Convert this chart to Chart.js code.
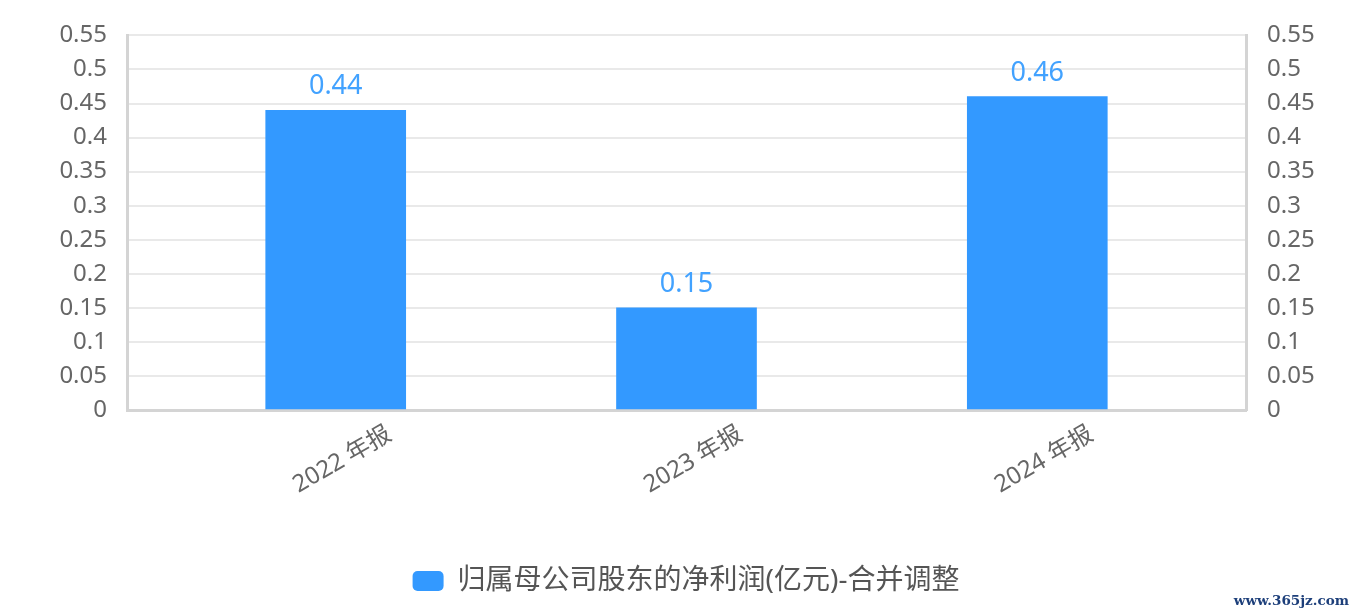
<!DOCTYPE html>
<html>
<head>
<meta charset="utf-8">
<script src="https://cdn.jsdelivr.net/npm/chart.js@4/dist/chart.umd.min.js"></script>
<style>
  html, body { margin: 0; padding: 0; background: #fff; }
  #wrap { position: relative; width: 1357px; height: 615px; }
  #wm { position: absolute; right: 8px; bottom: 7px; font-family: 'DejaVu Serif', serif; font-size: 13.5px; font-weight: bold; color: #1d3f7a; }
</style>
</head>
<body>
<div id="wrap">
  <canvas id="c" width="1357" height="615"></canvas>
  <div id="wm">www.365jz.com</div>
</div>
<script>
const categories = ['2022 年报', '2023 年报', '2024 年报'];
const seriesName = '归属母公司股东的净利润(亿元)-合并调整';
const netProfit = [0.44, 0.15, 0.46];
const yTicks = [0, 0.05, 0.1, 0.15, 0.2, 0.25, 0.3, 0.35, 0.4, 0.45, 0.5, 0.55];

const FONT = "'Noto Sans', 'Noto Sans CJK SC', sans-serif";
const BAR = '#3399ff';
const AXIS = '#d4d4d4';

const valueLabels = {
  id: 'valueLabels',
  afterDatasetsDraw(chart) {
    const ctx = chart.ctx;
    const meta = chart.getDatasetMeta(0);
    ctx.save();
    ctx.font = '27px ' + FONT;
    ctx.fillStyle = '#42a2ff';
    ctx.textAlign = 'center';
    ctx.textBaseline = 'alphabetic';
    meta.data.forEach((el, i) => {
      ctx.fillText(String(netProfit[i]), el.x, el.y - 16);
    });
    ctx.restore();
  }
};

const yTickCfg = {
  color: '#666',
  font: { size: 24, family: FONT },
  padding: 20,
  callback: v => String(+(+v).toFixed(2))
};

new Chart(document.getElementById('c'), {
  type: 'bar',
  data: {
    datasets: [{
      label: seriesName,
      data: netProfit.map((v, i) => ({ x: i, y: v })),
      backgroundColor: BAR,
      barThickness: 140,
      yAxisID: 'y'
    }]
  },
  options: {
    responsive: false,
    animation: false,
    layout: { padding: { top: 35, bottom: 10, left: 15, right: 0 } },
    scales: {
      x: {
        type: 'linear',
        offset: false,
        min: -0.595,
        max: 2.595,
        afterBuildTicks: s => { s.ticks = categories.map((c, i) => ({ value: i })); },
        afterFit: s => { s.height = 147; },
        grid: { display: true, drawOnChartArea: false, drawTicks: false },
        border: { display: true, color: AXIS, width: 3 },
        ticks: {
          autoSkip: false,
          minRotation: 30,
          maxRotation: 30,
          labelOffset: 54,
          padding: 10,
          color: '#666',
          font: { size: 24, family: FONT },
          callback: v => categories[v] ?? ''
        }
      },
      y: {
        position: 'left',
        min: 0,
        max: 0.55,
        afterBuildTicks: s => { s.ticks = yTicks.map(v => ({ value: v })); },
        afterFit: s => { s.width = 112; },
        grid: { color: '#e9e9e9', lineWidth: 2, drawTicks: false },
        border: { display: true, color: AXIS, width: 3 },
        ticks: yTickCfg
      },
      y1: {
        position: 'right',
        min: 0,
        max: 0.55,
        afterBuildTicks: s => { s.ticks = yTicks.map(v => ({ value: v })); },
        afterFit: s => { s.width = 111; },
        grid: { drawOnChartArea: false, drawTicks: false },
        border: { display: true, color: AXIS, width: 3 },
        ticks: Object.assign({}, yTickCfg, { padding: 21 })
      }
    },
    plugins: {
      legend: {
        position: 'bottom',
        labels: {
          color: '#555',
          font: { size: 28, family: FONT },
          boxWidth: 31,
          boxHeight: 20,
          useBorderRadius: true,
          borderRadius: 5,
          padding: 10
        }
      },
      tooltip: { enabled: false }
    }
  },
  plugins: [valueLabels]
});
</script>
</body>
</html>
